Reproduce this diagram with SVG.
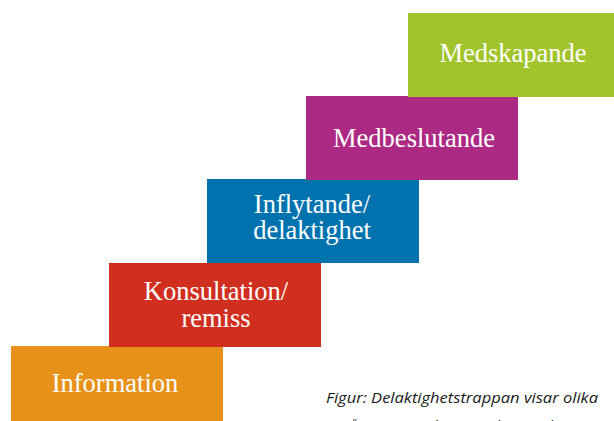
<svg xmlns="http://www.w3.org/2000/svg" width="614" height="421" viewBox="0 0 614 421">
<style>
.lbl{font-family:"Liberation Serif","DejaVu Serif",serif;font-size:26.5px;fill:#ffffff;text-anchor:middle}
.cap{font-family:"Open Sans","Liberation Sans",sans-serif;font-style:italic;font-size:15px;fill:#1a1a1a}
</style>
<rect width="614" height="421" fill="#ffffff"/>
<g id="information">
<rect x="11" y="346" width="212" height="75" fill="#E8911A"/>
<text class="lbl" x="115" y="392">Information</text>
</g>
<g id="konsultation">
<rect x="109" y="263" width="212" height="84" fill="#D02F20"/>
<text class="lbl" x="216" y="300">Konsultation/</text>
<text class="lbl" x="216" y="327">remiss</text>
</g>
<g id="inflytande">
<rect x="207" y="179" width="212" height="84" fill="#0073AF"/>
<text class="lbl" x="312" y="213">Inflytande/</text>
<text class="lbl" x="312" y="239">delaktighet</text>
</g>
<g id="medbeslutande">
<rect x="306" y="96" width="212" height="84" fill="#AD2A84"/>
<text class="lbl" x="414" y="147">Medbeslutande</text>
</g>
<g id="medskapande">
<rect x="408" y="13" width="206" height="84" fill="#A1C42D"/>
<text class="lbl" x="513" y="62">Medskapande</text>
</g>
<g id="connectors"></g>
<text class="cap" x="326" y="403" textLength="272" lengthAdjust="spacingAndGlyphs">Figur: Delaktighetstrappan visar olika</text>
<text class="cap" x="330" y="431">nivåer av interaktion med Vänersborg</text>
</svg>
